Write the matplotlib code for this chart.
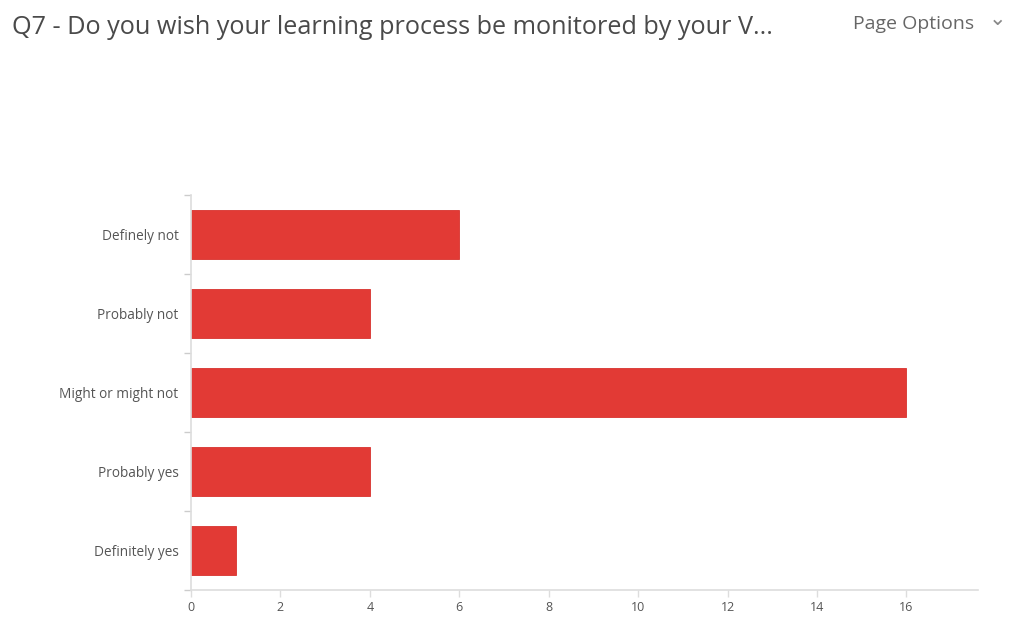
import matplotlib
matplotlib.use("Agg")
import matplotlib.pyplot as plt
import numpy as np

categories = ["Definely not", "Probably not", "Might or might not", "Probably yes", "Definitely yes"]
counts = [6, 4, 16, 4, 1]
x_ticks = [0, 2, 4, 6, 8, 10, 12, 14, 16]

plt.rcParams['font.family'] = ['Open Sans', 'DejaVu Sans']

fig = plt.figure(figsize=(10.34, 6.19), dpi=100)
ax = fig.add_axes([191/1034, 29/619, (978-191)/1034, (590-195)/619])

y = np.arange(len(categories))
ax.barh(y, counts, height=0.63, color='#e23a35', edgecolor='#d8322e', linewidth=0.6)
ax.set_yticks(y)
ax.set_yticklabels(categories, fontsize=9.8, color='#555555')
ax.set_ylim(len(categories) - 0.5, -0.5)
ax.set_xlim(0, 17.6)
ax.set_xticks(x_ticks)
ax.set_xticklabels([str(t) for t in x_ticks], fontsize=9, color='#555555')

ax.set_yticks(np.arange(-0.5, len(categories), 1.0), minor=True)
ax.tick_params(axis='y', which='major', length=0, pad=9)
ax.tick_params(axis='y', which='minor', length=5, color='#cccccc', width=1)
ax.tick_params(axis='x', which='major', length=5, color='#dddddd', width=1, pad=3)

for s in ['top', 'right']:
    ax.spines[s].set_visible(False)
for s in ['left', 'bottom']:
    ax.spines[s].set_color('#dddddd')
    ax.spines[s].set_linewidth(1.2)

fig.text(12/1034, 1 - 27/619, "Q7 - Do you wish your learning process be monitored by your V...",
         fontsize=18.2, color='#4a4a4a', va='center', ha='left')
fig.text(853/1034, 1 - 24/619, "Page Options", fontsize=14, color='#666666', va='center', ha='left')
fig.text(989/1034, 1 - 19/619, "\u2304", fontsize=15, color='#888888', va='center', ha='left',
         family=['DejaVu Sans'])

fig.savefig("out.png", dpi=100)
